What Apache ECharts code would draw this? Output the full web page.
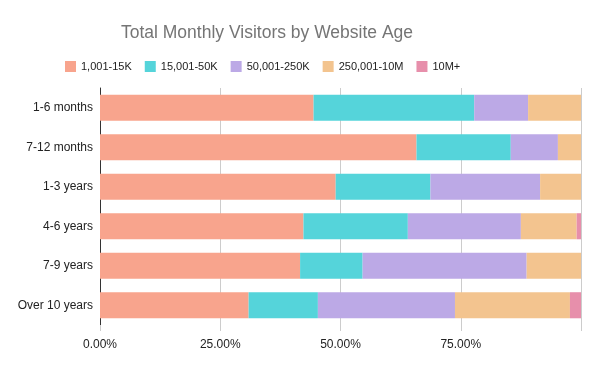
<!DOCTYPE html>
<html><head><meta charset="utf-8">
<script src="https://cdn.jsdelivr.net/npm/echarts@6/dist/echarts.min.js"></script>
<style>html,body{margin:0;padding:0;background:#fff}#c{width:600px;height:371px}</style>
</head><body><div id="c"></div>
<script>
const categories = ['1-6 months','7-12 months','1-3 years','4-6 years','7-9 years','Over 10 years'];
const seriesNames = ['1,001-15K','15,001-50K','50,001-250K','250,001-10M','10M+'];
const s1 = [44.4, 65.8, 49.0, 42.3, 41.6, 30.9];
const s2 = [33.4, 19.6, 19.7, 21.7, 13.0, 14.4];
const s3 = [11.2, 9.8, 22.8, 23.5, 34.1, 28.5];
const s4 = [11.0, 4.8, 8.5, 11.6, 11.3, 23.9];
const s5 = [0, 0, 0, 0.9, 0, 2.3];
const colors = ['#F8A48D','#55D4DA','#BCA9E6','#F3C48F','#E78FAB'];
const allSeries = [s1,s2,s3,s4,s5];
const FONT = 'Liberation Sans, Arial, sans-serif';

const chart = echarts.init(document.getElementById('c'));
chart.setOption({
  animation:false,
  title:{text:'Total Monthly Visitors by Website Age',left:262,textAlign:'center',top:19,
    textStyle:{fontFamily:FONT,fontSize:17.5,fontWeight:'normal',color:'#757575'}},
  legend:{top:56,left:60,itemWidth:11,itemHeight:11,itemGap:13,itemTextGap:8,icon:'rect',
    textStyle:{fontFamily:FONT,fontSize:11,color:'#222'},data:seriesNames},
  grid:{left:100,right:19,top:88,bottom:46,containLabel:false},
  xAxis:{type:'value',min:0,max:100,interval:25,
    axisLabel:{formatter:v=>v===100?'':v.toFixed(2)+'%',fontFamily:FONT,fontSize:12,color:'#222',margin:14},
    splitLine:{lineStyle:{color:'#cccccc'}},axisLine:{show:false},
    axisTick:{show:true,length:6,lineStyle:{color:'#cccccc'}}},
  yAxis:{type:'category',inverse:true,data:categories,
    axisLabel:{fontFamily:FONT,fontSize:12,color:'#222',margin:7},
    axisLine:{lineStyle:{color:'#333'}},axisTick:{show:false}},
  series: allSeries.map((d,i)=>({name:seriesNames[i],type:'bar',stack:'t',data:d,
    barCategoryGap:'34%',itemStyle:{color:colors[i]}}))
});
</script></body></html>
